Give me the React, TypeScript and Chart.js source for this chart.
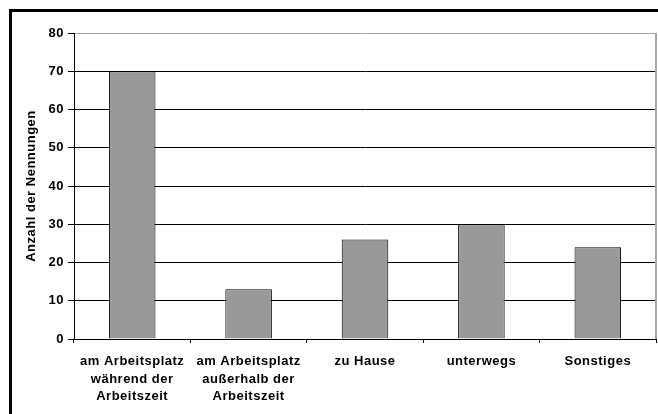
import React, { useEffect, useRef } from "react";
import { Chart, registerables } from "chart.js";

Chart.register(...registerables);

const categories: (string | string[])[] = [
  ["am Arbeitsplatz", "während der", "Arbeitszeit"],
  ["am Arbeitsplatz", "außerhalb der", "Arbeitszeit"],
  "zu Hause",
  "unterwegs",
  "Sonstiges",
];
const values = [70, 13, 26, 30, 24];
const yTitle = "Anzahl der Nennungen";
const yMin = 0;
const yMax = 80;
const yStep = 10;

const FONT = "'Liberation Sans', Arial, sans-serif";

const spacingPlugin = {
  id: "spacing",
  beforeUpdate(chart: any) {
    chart.ctx.letterSpacing = "0.5px";
  },
  beforeDraw(chart: any) {
    chart.ctx.letterSpacing = "0.5px";
  },
};

const framePlugin = {
  id: "frame",
  afterDraw(chart: any) {
    const ctx = chart.ctx;
    const a = chart.chartArea;
    ctx.save();
    ctx.strokeStyle = "#a6a6a6";
    ctx.lineWidth = 2;
    ctx.beginPath();
    ctx.moveTo(a.right, a.top);
    ctx.lineTo(a.right, a.bottom);
    ctx.stroke();
    ctx.strokeStyle = "#000";
    ctx.lineWidth = 3;
    ctx.strokeRect(10.5, 10.5, 800, 600);
    ctx.restore();
  },
};

export default function App() {
  const ref = useRef<HTMLCanvasElement>(null);
  useEffect(() => {
    if (!ref.current) return;
    const chart = new Chart(ref.current, {
      type: "bar",
      data: {
        labels: categories as any,
        datasets: [
          {
            data: values,
            backgroundColor: "#999999",
            borderColor: "#000000",
            borderWidth: 1,
            barPercentage: 0.4,
            categoryPercentage: 1,
          },
        ],
      },
      options: {
        animation: false,
        responsive: false,
        layout: { padding: { left: 0, top: 33, right: 2, bottom: 0 } },
        plugins: { legend: { display: false }, tooltip: { enabled: false } },
        scales: {
          x: {
            offset: true,
            grid: {
              display: true,
              drawOnChartArea: false,
              drawTicks: true,
              tickLength: 4,
              tickColor: "#000",
              offset: true,
            },
            border: { display: true, color: "#000", width: 1 },
            ticks: {
              color: "#000",
              padding: 10,
              maxRotation: 0,
              autoSkip: false,
              font: { family: FONT, size: 13, weight: "bold", lineHeight: 1.34 },
            },
            afterFit(scale: any) {
              scale.height = 75;
            },
          },
          y: {
            min: yMin,
            max: yMax,
            ticks: {
              stepSize: yStep,
              color: "#000",
              padding: 4,
              font: { family: FONT, size: 13, weight: "bold" },
            },
            grid: {
              color: (c: any) => (c.tick && c.tick.value === yMax ? "#a6a6a6" : "#000"),
              tickColor: "#000",
              tickLength: 6,
              lineWidth: 1,
            },
            border: { display: true, color: "#000", width: 1 },
            title: {
              display: true,
              text: yTitle,
              color: "#000",
              padding: { top: 24, bottom: 0 },
              font: { family: FONT, size: 13, weight: "bold" },
            },
            afterFit(scale: any) {
              scale.width = 74;
            },
          },
        },
      },
      plugins: [spacingPlugin, framePlugin],
    } as any);
    return () => chart.destroy();
  }, []);
  return (
    <div style={{ position: "fixed", left: 0, top: 0, width: 658, height: 414, background: "#fff" }}>
      <canvas ref={ref} width={658} height={414} style={{ display: "block" }} />
    </div>
  );
}
